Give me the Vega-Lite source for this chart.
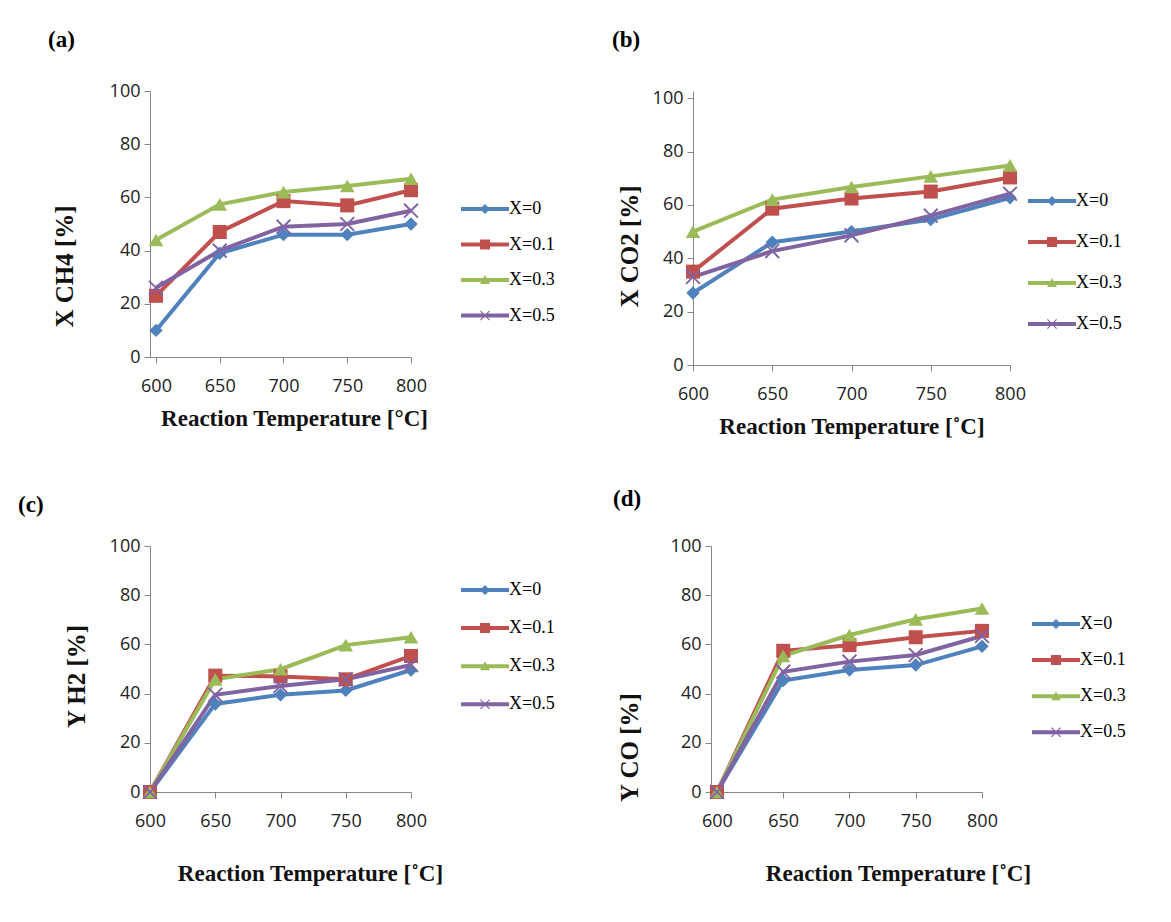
{
  "$schema": "https://vega.github.io/schema/vega-lite/v6.json",
  "background": "white",
  "padding": {"left": 18, "top": 29, "right": 5, "bottom": 5},
  "datasets": {
    "d": [
      {"p":"a","s":"X=0","T":600,"v":10},{"p":"a","s":"X=0","T":650,"v":39},{"p":"a","s":"X=0","T":700,"v":46},{"p":"a","s":"X=0","T":750,"v":46},{"p":"a","s":"X=0","T":800,"v":50},
      {"p":"a","s":"X=0.1","T":600,"v":23},{"p":"a","s":"X=0.1","T":650,"v":47},{"p":"a","s":"X=0.1","T":700,"v":58.6},{"p":"a","s":"X=0.1","T":750,"v":57},{"p":"a","s":"X=0.1","T":800,"v":62.7},
      {"p":"a","s":"X=0.3","T":600,"v":44},{"p":"a","s":"X=0.3","T":650,"v":57.4},{"p":"a","s":"X=0.3","T":700,"v":62},{"p":"a","s":"X=0.3","T":750,"v":64.3},{"p":"a","s":"X=0.3","T":800,"v":67},
      {"p":"a","s":"X=0.5","T":600,"v":26},{"p":"a","s":"X=0.5","T":650,"v":40},{"p":"a","s":"X=0.5","T":700,"v":49},{"p":"a","s":"X=0.5","T":750,"v":50},{"p":"a","s":"X=0.5","T":800,"v":55},
      {"p":"b","s":"X=0","T":600,"v":27},{"p":"b","s":"X=0","T":650,"v":46},{"p":"b","s":"X=0","T":700,"v":50},{"p":"b","s":"X=0","T":750,"v":54.5},{"p":"b","s":"X=0","T":800,"v":62.7},
      {"p":"b","s":"X=0.1","T":600,"v":35},{"p":"b","s":"X=0.1","T":650,"v":58.6},{"p":"b","s":"X=0.1","T":700,"v":62.4},{"p":"b","s":"X=0.1","T":750,"v":65},{"p":"b","s":"X=0.1","T":800,"v":70.3},
      {"p":"b","s":"X=0.3","T":600,"v":50},{"p":"b","s":"X=0.3","T":650,"v":62},{"p":"b","s":"X=0.3","T":700,"v":66.7},{"p":"b","s":"X=0.3","T":750,"v":70.7},{"p":"b","s":"X=0.3","T":800,"v":74.8},
      {"p":"b","s":"X=0.5","T":600,"v":33},{"p":"b","s":"X=0.5","T":650,"v":42.7},{"p":"b","s":"X=0.5","T":700,"v":48.6},{"p":"b","s":"X=0.5","T":750,"v":56},{"p":"b","s":"X=0.5","T":800,"v":64.2},
      {"p":"c","s":"X=0","T":600,"v":0},{"p":"c","s":"X=0","T":650,"v":35.8},{"p":"c","s":"X=0","T":700,"v":39.5},{"p":"c","s":"X=0","T":750,"v":41.3},{"p":"c","s":"X=0","T":800,"v":49.6},
      {"p":"c","s":"X=0.1","T":600,"v":0},{"p":"c","s":"X=0.1","T":650,"v":47.3},{"p":"c","s":"X=0.1","T":700,"v":47},{"p":"c","s":"X=0.1","T":750,"v":45.8},{"p":"c","s":"X=0.1","T":800,"v":55.3},
      {"p":"c","s":"X=0.3","T":600,"v":0},{"p":"c","s":"X=0.3","T":650,"v":45.8},{"p":"c","s":"X=0.3","T":700,"v":49.9},{"p":"c","s":"X=0.3","T":750,"v":59.7},{"p":"c","s":"X=0.3","T":800,"v":62.9},
      {"p":"c","s":"X=0.5","T":600,"v":0},{"p":"c","s":"X=0.5","T":650,"v":39.5},{"p":"c","s":"X=0.5","T":700,"v":43.1},{"p":"c","s":"X=0.5","T":750,"v":45.8},{"p":"c","s":"X=0.5","T":800,"v":51.6},
      {"p":"d","s":"X=0","T":600,"v":0},{"p":"d","s":"X=0","T":650,"v":45.3},{"p":"d","s":"X=0","T":700,"v":49.6},{"p":"d","s":"X=0","T":750,"v":51.6},{"p":"d","s":"X=0","T":800,"v":59.2},
      {"p":"d","s":"X=0.1","T":600,"v":0},{"p":"d","s":"X=0.1","T":650,"v":57.4},{"p":"d","s":"X=0.1","T":700,"v":59.7},{"p":"d","s":"X=0.1","T":750,"v":62.9},{"p":"d","s":"X=0.1","T":800,"v":65.5},
      {"p":"d","s":"X=0.3","T":600,"v":0},{"p":"d","s":"X=0.3","T":650,"v":55.3},{"p":"d","s":"X=0.3","T":700,"v":63.8},{"p":"d","s":"X=0.3","T":750,"v":70.2},{"p":"d","s":"X=0.3","T":800,"v":74.6},
      {"p":"d","s":"X=0.5","T":600,"v":0},{"p":"d","s":"X=0.5","T":650,"v":48.9},{"p":"d","s":"X=0.5","T":700,"v":53},{"p":"d","s":"X=0.5","T":750,"v":55.7},{"p":"d","s":"X=0.5","T":800,"v":63.4}
    ]
  },
  "data": {"name": "d"},
  "spacing": 50,
  "resolve": {"scale": {"color": "independent", "fill": "independent", "shape": "independent", "size": "independent"}, "legend": {"color": "independent"}},
  "vconcat": [
    {
      "spacing": 57,
      "resolve": {"scale": {"color": "independent", "fill": "independent", "shape": "independent", "size": "independent"}, "legend": {"color": "independent"}},
      "hconcat": [
        {
          "title": {"text": "(a)", "offset": 30, "dx": -4},
          "width": 261, "height": 266,
          "transform": [{"filter": "datum.p === 'a'"}],
          "encoding": {
            "x": {"field": "T", "type": "quantitative", "scale": {"domain": [595.3, 800], "nice": false, "zero": false}, "axis": {"values": [600, 650, 700, 750, 800], "title": "Reaction Temperature [°C]", "titlePadding": 12, "titleX": 144}},
            "y": {"field": "v", "type": "quantitative", "scale": {"domain": [0, 100]}, "axis": {"values": [0, 20, 40, 60, 80, 100], "title": "X CH4 [%]", "titlePadding": 32, "titleY": 175}}
          },
          "layer": [
            {"mark": {"type": "line", "strokeWidth": 4},
             "encoding": {"color": {"field": "s", "type": "nominal", "scale": {"domain": ["X=0", "X=0.1", "X=0.3", "X=0.5"], "range": ["#4F81BD", "#C0504D", "#9BBB59", "#8064A2"]},
               "legend": {"orient": "none", "legendX": 325, "legendY": 108, "rowPadding": 16.5,
                 "encode": {"symbols": {"update": {
                   "shape": {"signal": "datum.value === 'X=0' ? 'M-2.4,-0.2H-0.3L0,-0.5L0.3,-0.2H2.4V0.2H0.3L0,0.5L-0.3,0.2H-2.4Z' : datum.value === 'X=0.1' ? 'M-2.4,-0.2H-0.5V-0.5H0.5V-0.2H2.4V0.2H0.5V0.5H-0.5V0.2H-2.4Z' : datum.value === 'X=0.3' ? 'M-2.4,-0.2H-0.167L0,-0.5L0.167,-0.2H2.4V0.2H0.389L0.5,0.4H-0.5L-0.389,0.2H-2.4Z' : 'M-2.4,-0.2H2.4V0.2H-2.4ZM-0.5,-0.42L-0.42,-0.5L0,-0.08L0.42,-0.5L0.5,-0.42L0.08,0L0.5,0.42L0.42,0.5L0,0.08L-0.42,0.5L-0.5,0.42L-0.08,0Z'"},
                   "fill": {"signal": "datum.value === 'X=0' ? '#4F81BD' : datum.value === 'X=0.1' ? '#C0504D' : datum.value === 'X=0.3' ? '#9BBB59' : '#8064A2'"},
                   "fillOpacity": {"value": 1}, "opacity": {"value": 1}}}}}}}},
            {"mark": {"type": "point", "filled": true, "opacity": 1},
             "encoding": {
               "fill": {"field": "s", "type": "nominal", "scale": {"range": ["#4F81BD", "#C0504D", "#9BBB59", "#8064A2"]}, "legend": null},
               "shape": {"field": "s", "type": "nominal", "scale": {"range": ["diamond", "square", "triangle-up", "M-1,-0.82L-0.82,-1L0,-0.18L0.82,-1L1,-0.82L0.18,0L1,0.82L0.82,1L0,0.18L-0.82,1L-1,0.82L-0.18,0Z"]}, "legend": null},
               "size": {"field": "s", "type": "nominal", "scale": {"range": [180, 230, 300, 200]}, "legend": null}
             }}
          ]
        },
        {
          "title": {"text": "(b)", "offset": 37, "dx": -5},
          "width": 317, "height": 274,
          "transform": [{"filter": "datum.p === 'b'"}],
          "encoding": {
            "x": {"field": "T", "type": "quantitative", "scale": {"domain": [600, 800], "nice": false, "zero": false}, "axis": {"values": [600, 650, 700, 750, 800], "title": "Reaction Temperature [˚C]", "titlePadding": 12}},
            "y": {"field": "v", "type": "quantitative", "scale": {"domain": [0, 102.7], "nice": false}, "axis": {"values": [0, 20, 40, 60, 80, 100], "title": "X CO2 [%]", "titlePadding": 10, "titleY": 155}}
          },
          "layer": [
            {"mark": {"type": "line", "strokeWidth": 4},
             "encoding": {"color": {"field": "s", "type": "nominal", "scale": {"domain": ["X=0", "X=0.1", "X=0.3", "X=0.5"], "range": ["#4F81BD", "#C0504D", "#9BBB59", "#8064A2"]},
               "legend": {"orient": "none", "legendX": 349, "legendY": 100, "rowPadding": 22,
                 "encode": {"symbols": {"update": {
                   "shape": {"signal": "datum.value === 'X=0' ? 'M-2.4,-0.2H-0.3L0,-0.5L0.3,-0.2H2.4V0.2H0.3L0,0.5L-0.3,0.2H-2.4Z' : datum.value === 'X=0.1' ? 'M-2.4,-0.2H-0.5V-0.5H0.5V-0.2H2.4V0.2H0.5V0.5H-0.5V0.2H-2.4Z' : datum.value === 'X=0.3' ? 'M-2.4,-0.2H-0.167L0,-0.5L0.167,-0.2H2.4V0.2H0.389L0.5,0.4H-0.5L-0.389,0.2H-2.4Z' : 'M-2.4,-0.2H2.4V0.2H-2.4ZM-0.5,-0.42L-0.42,-0.5L0,-0.08L0.42,-0.5L0.5,-0.42L0.08,0L0.5,0.42L0.42,0.5L0,0.08L-0.42,0.5L-0.5,0.42L-0.08,0Z'"},
                   "fill": {"signal": "datum.value === 'X=0' ? '#4F81BD' : datum.value === 'X=0.1' ? '#C0504D' : datum.value === 'X=0.3' ? '#9BBB59' : '#8064A2'"},
                   "fillOpacity": {"value": 1}, "opacity": {"value": 1}}}}}}}},
            {"mark": {"type": "point", "filled": true, "opacity": 1},
             "encoding": {
               "fill": {"field": "s", "type": "nominal", "scale": {"range": ["#4F81BD", "#C0504D", "#9BBB59", "#8064A2"]}, "legend": null},
               "shape": {"field": "s", "type": "nominal", "scale": {"range": ["diamond", "square", "triangle-up", "M-1,-0.82L-0.82,-1L0,-0.18L0.82,-1L1,-0.82L0.18,0L1,0.82L0.82,1L0,0.18L-0.82,1L-1,0.82L-0.18,0Z"]}, "legend": null},
               "size": {"field": "s", "type": "nominal", "scale": {"range": [180, 230, 300, 200]}, "legend": null}
             }}
          ]
        }
      ]
    },
    {
      "spacing": 58,
      "resolve": {"scale": {"color": "independent", "fill": "independent", "shape": "independent", "size": "independent"}, "legend": {"color": "independent"}},
      "hconcat": [
        {
          "title": {"text": "(c)", "offset": 20, "dx": -46},
          "width": 261, "height": 246,
          "transform": [{"filter": "datum.p === 'c'"}],
          "encoding": {
            "x": {"field": "T", "type": "quantitative", "scale": {"domain": [600, 800], "nice": false, "zero": false}, "axis": {"values": [600, 650, 700, 750, 800], "title": "Reaction Temperature [˚C]", "titlePadding": 32, "titleX": 160}},
            "y": {"field": "v", "type": "quantitative", "scale": {"domain": [0, 100]}, "axis": {"values": [0, 20, 40, 60, 80, 100], "title": "Y H2 [%]", "titlePadding": 20, "titleY": 130}}
          },
          "layer": [
            {"mark": {"type": "line", "strokeWidth": 4},
             "encoding": {"color": {"field": "s", "type": "nominal", "scale": {"domain": ["X=0", "X=0.1", "X=0.3", "X=0.5"], "range": ["#4F81BD", "#C0504D", "#9BBB59", "#8064A2"]},
               "legend": {"orient": "none", "legendX": 325, "legendY": 34, "rowPadding": 19.1,
                 "encode": {"symbols": {"update": {
                   "shape": {"signal": "datum.value === 'X=0' ? 'M-2.4,-0.2H-0.3L0,-0.5L0.3,-0.2H2.4V0.2H0.3L0,0.5L-0.3,0.2H-2.4Z' : datum.value === 'X=0.1' ? 'M-2.4,-0.2H-0.5V-0.5H0.5V-0.2H2.4V0.2H0.5V0.5H-0.5V0.2H-2.4Z' : datum.value === 'X=0.3' ? 'M-2.4,-0.2H-0.167L0,-0.5L0.167,-0.2H2.4V0.2H0.389L0.5,0.4H-0.5L-0.389,0.2H-2.4Z' : 'M-2.4,-0.2H2.4V0.2H-2.4ZM-0.5,-0.42L-0.42,-0.5L0,-0.08L0.42,-0.5L0.5,-0.42L0.08,0L0.5,0.42L0.42,0.5L0,0.08L-0.42,0.5L-0.5,0.42L-0.08,0Z'"},
                   "fill": {"signal": "datum.value === 'X=0' ? '#4F81BD' : datum.value === 'X=0.1' ? '#C0504D' : datum.value === 'X=0.3' ? '#9BBB59' : '#8064A2'"},
                   "fillOpacity": {"value": 1}, "opacity": {"value": 1}}}}}}}},
            {"mark": {"type": "point", "filled": true, "opacity": 1},
             "encoding": {
               "fill": {"field": "s", "type": "nominal", "scale": {"range": ["#4F81BD", "#C0504D", "#9BBB59", "#8064A2"]}, "legend": null},
               "shape": {"field": "s", "type": "nominal", "scale": {"range": ["diamond", "square", "triangle-up", "M-1,-0.82L-0.82,-1L0,-0.18L0.82,-1L1,-0.82L0.18,0L1,0.82L0.82,1L0,0.18L-0.82,1L-1,0.82L-0.18,0Z"]}, "legend": null},
               "size": {"field": "s", "type": "nominal", "scale": {"range": [180, 230, 300, 200]}, "legend": null}
             }}
          ]
        },
        {
          "title": {"text": "(d)", "offset": 26, "dx": -4},
          "width": 271, "height": 246,
          "transform": [{"filter": "datum.p === 'd'"}],
          "encoding": {
            "x": {"field": "T", "type": "quantitative", "scale": {"domain": [595.5, 800], "nice": false, "zero": false}, "axis": {"values": [600, 650, 700, 750, 800], "title": "Reaction Temperature [˚C]", "titlePadding": 32, "titleX": 187}},
            "y": {"field": "v", "type": "quantitative", "scale": {"domain": [0, 100]}, "axis": {"values": [0, 20, 40, 60, 80, 100], "title": "Y CO [%]", "titlePadding": 28, "titleY": 201}}
          },
          "layer": [
            {"mark": {"type": "line", "strokeWidth": 4},
             "encoding": {"color": {"field": "s", "type": "nominal", "scale": {"domain": ["X=0", "X=0.1", "X=0.3", "X=0.5"], "range": ["#4F81BD", "#C0504D", "#9BBB59", "#8064A2"]},
               "legend": {"orient": "none", "legendX": 335, "legendY": 68, "rowPadding": 17.1,
                 "encode": {"symbols": {"update": {
                   "shape": {"signal": "datum.value === 'X=0' ? 'M-2.4,-0.2H-0.3L0,-0.5L0.3,-0.2H2.4V0.2H0.3L0,0.5L-0.3,0.2H-2.4Z' : datum.value === 'X=0.1' ? 'M-2.4,-0.2H-0.5V-0.5H0.5V-0.2H2.4V0.2H0.5V0.5H-0.5V0.2H-2.4Z' : datum.value === 'X=0.3' ? 'M-2.4,-0.2H-0.167L0,-0.5L0.167,-0.2H2.4V0.2H0.389L0.5,0.4H-0.5L-0.389,0.2H-2.4Z' : 'M-2.4,-0.2H2.4V0.2H-2.4ZM-0.5,-0.42L-0.42,-0.5L0,-0.08L0.42,-0.5L0.5,-0.42L0.08,0L0.5,0.42L0.42,0.5L0,0.08L-0.42,0.5L-0.5,0.42L-0.08,0Z'"},
                   "fill": {"signal": "datum.value === 'X=0' ? '#4F81BD' : datum.value === 'X=0.1' ? '#C0504D' : datum.value === 'X=0.3' ? '#9BBB59' : '#8064A2'"},
                   "fillOpacity": {"value": 1}, "opacity": {"value": 1}}}}}}}},
            {"mark": {"type": "point", "filled": true, "opacity": 1},
             "encoding": {
               "fill": {"field": "s", "type": "nominal", "scale": {"range": ["#4F81BD", "#C0504D", "#9BBB59", "#8064A2"]}, "legend": null},
               "shape": {"field": "s", "type": "nominal", "scale": {"range": ["diamond", "square", "triangle-up", "M-1,-0.82L-0.82,-1L0,-0.18L0.82,-1L1,-0.82L0.18,0L1,0.82L0.82,1L0,0.18L-0.82,1L-1,0.82L-0.18,0Z"]}, "legend": null},
               "size": {"field": "s", "type": "nominal", "scale": {"range": [180, 230, 300, 200]}, "legend": null}
             }}
          ]
        }
      ]
    }
  ],
  "config": {
    "view": {"stroke": null},
    "title": {"anchor": "start", "frame": "bounds", "font": "Liberation Serif", "fontSize": 23, "fontWeight": "bold", "color": "#000"},
    "axis": {"grid": false, "domainColor": "#868686", "tickColor": "#868686", "tickSize": 6, "labelFont": "Open Sans", "labelFontSize": 18, "labelColor": "#222", "labelPadding": 4, "labelFlush": false, "labelOverlap": false, "titleFont": "Liberation Serif", "titleFontSize": 23, "titleFontWeight": "bold", "titleColor": "#111"},
    "axisX": {"labelPadding": 14},
    "axisY": {"titleFontSize": 25},
    "legend": {"title": null, "labelFont": "Liberation Serif", "labelFontSize": 18, "labelColor": "#000", "labelOffset": 14, "symbolSize": 400, "symbolStrokeWidth": 0, "symbolOpacity": 1}
  }
}
